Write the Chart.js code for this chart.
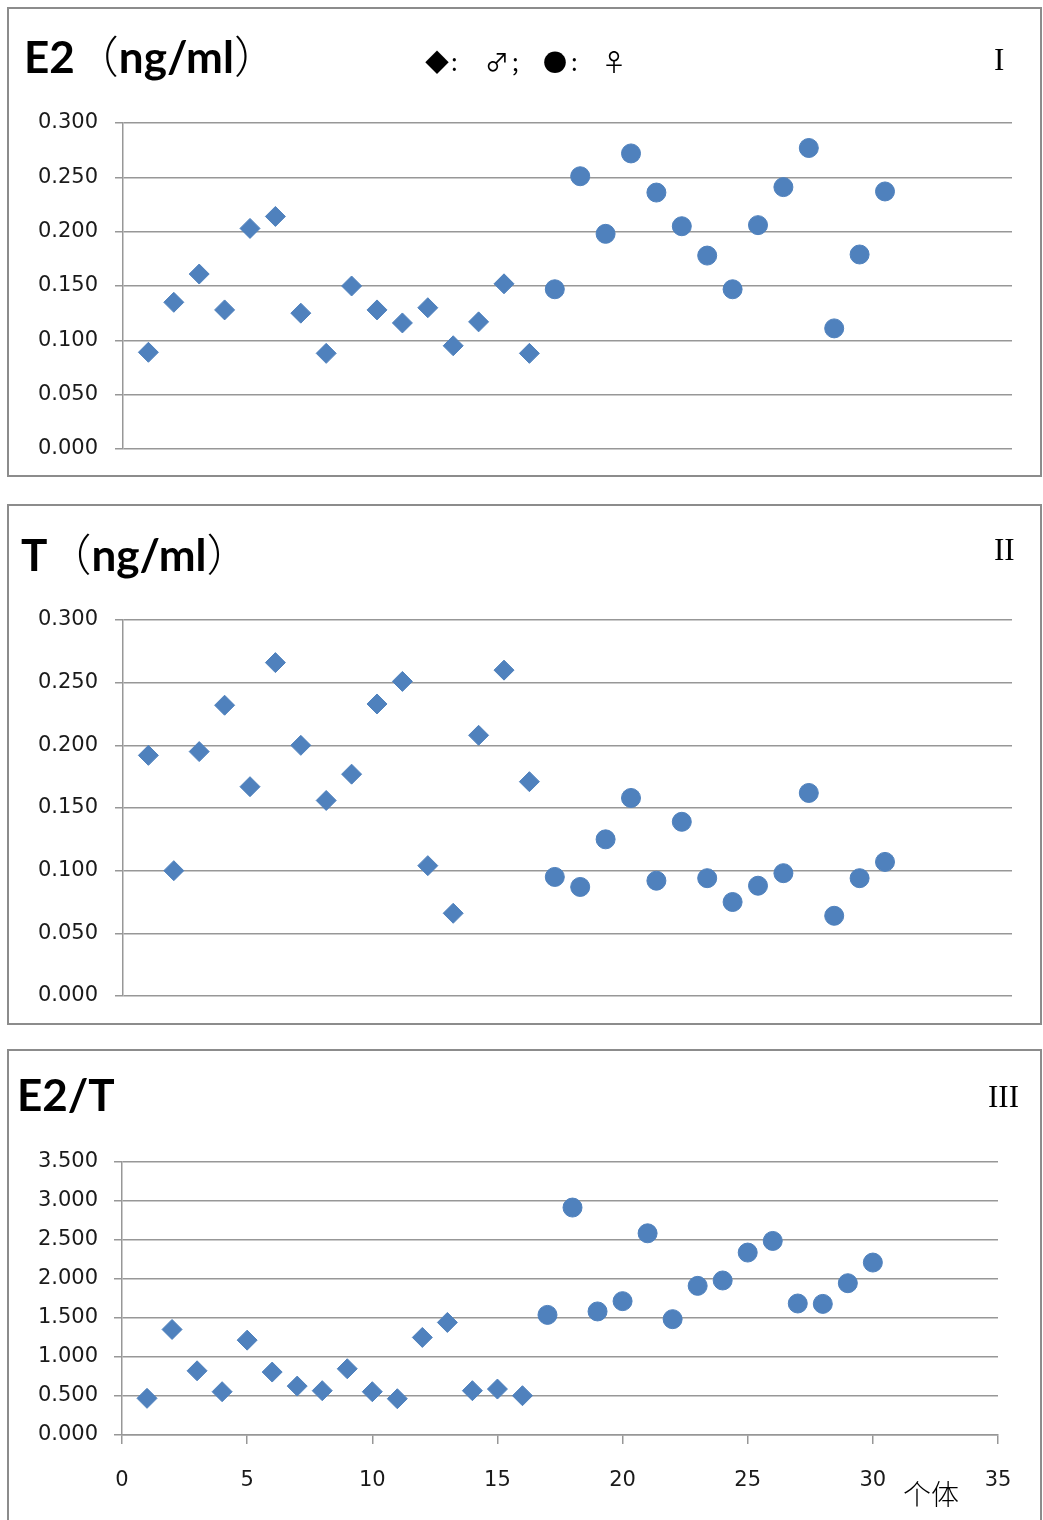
<!DOCTYPE html>
<html>
<head>
<meta charset="utf-8">
<script src="https://cdn.jsdelivr.net/npm/chart.js@4"></script>
<style>
    body { margin: 0; background: #fff; width: 1043px; height: 1520px; overflow: hidden; position: relative; }
    .panel { position: absolute; box-sizing: border-box; border: 2px solid #8c8c8c; left: 7px; width: 1035px; }
    canvas { position: absolute; left: 0; }
    .txt { position: absolute; white-space: nowrap; color: #000; line-height: 1; }
    .title { font-family: Lato, "Noto Sans CJK SC", sans-serif; font-weight: 700; font-size: 44px; }
    .paren { font-family: "Noto Sans CJK SC", sans-serif; font-weight: 300; }
    .roman { font-family: "Liberation Serif", serif; font-size: 31px; }
    .sym { font-family: "Noto Sans CJK SC", sans-serif; font-size: 24px; }
</style>
</head>
<body>
<div class="panel" style="top:7px;height:470px;"></div>
<div class="panel" style="top:504px;height:521px;"></div>
<div class="panel" style="top:1049px;height:490px;"></div>

<canvas id="chartE2" width="1043" height="477" style="top:0px;"></canvas>
<canvas id="chartT" width="1043" height="520" style="top:504px;"></canvas>
<canvas id="chartRatio" width="1043" height="471" style="top:1049px;"></canvas>

<div class="txt title" style="left:24px;top:32px;">E2<span class="paren">（</span>ng/ml<span class="paren">）</span></div>
<div class="txt title" style="left:21px;top:530px;">T<span class="paren">（</span>ng/ml<span class="paren">）</span></div>
<div class="txt title" style="left:17px;top:1072px;">E2/T</div>

<div class="txt sym" style="left:425px;top:49px;">◆</div>
<div class="txt sym" style="left:451px;top:49px;">:</div>
<div class="txt sym" style="left:485px;top:49px;">♂</div>
<div class="txt sym" style="left:512px;top:49px;">;</div>
<div class="txt sym" style="left:543px;top:49px;">●</div>
<div class="txt sym" style="left:571px;top:49px;">:</div>
<div class="txt sym" style="left:602px;top:49px;">♀</div>

<div class="txt roman" style="left:994px;top:44px;">I</div>
<div class="txt roman" style="left:994px;top:534px;">II</div>
<div class="txt roman" style="left:988px;top:1081px;">III</div>

<div class="txt" style="left:903px;top:1479px;font-family:'Noto Sans CJK SC',sans-serif;font-weight:300;font-size:28px;">个体</div>

<script>
    // individuals: 1-16 male (diamond), 17-30 female (circle)
    const maleIds = [1, 2, 3, 4, 5, 6, 7, 8, 9, 10, 11, 12, 13, 14, 15, 16];
    const femaleIds = [17, 18, 19, 20, 21, 22, 23, 24, 25, 26, 27, 28, 29, 30];

    const e2Male = [0.089, 0.135, 0.161, 0.128, 0.203, 0.214, 0.125, 0.088, 0.150, 0.128, 0.116, 0.130, 0.095, 0.117, 0.152, 0.088];
    const e2Female = [0.147, 0.251, 0.198, 0.272, 0.236, 0.205, 0.178, 0.147, 0.206, 0.241, 0.277, 0.111, 0.179, 0.237];

    const tMale = [0.192, 0.100, 0.195, 0.232, 0.167, 0.266, 0.200, 0.156, 0.177, 0.233, 0.251, 0.104, 0.066, 0.208, 0.260, 0.171];
    const tFemale = [0.095, 0.087, 0.125, 0.158, 0.092, 0.139, 0.094, 0.075, 0.088, 0.098, 0.162, 0.064, 0.094, 0.107];

    const ratioMale = [0.470, 1.353, 0.823, 0.555, 1.216, 0.807, 0.627, 0.568, 0.849, 0.555, 0.465, 1.251, 1.443, 0.568, 0.589, 0.504];
    const ratioFemale = [1.540, 2.916, 1.584, 1.716, 2.586, 1.485, 1.912, 1.981, 2.339, 2.488, 1.686, 1.681, 1.946, 2.211];

    const xTicks = [0, 5, 10, 15, 20, 25, 30, 35];

    const pointColor = "#4f81bd";
    const gridColor = "#979797";
    const labelFont = { family: "'DejaVu Sans', sans-serif", size: 21 };

    function toPoints(ids, values) {
        return ids.map((id, i) => ({ x: id, y: values[i] }));
    }

    function makeChart(canvasId, male, female, opts) {
        let ctx = document.getElementById(canvasId);
        return new Chart(ctx, {
            type: "scatter",
            data: {
                datasets: [
                    {
                        label: "♂",
                        data: toPoints(maleIds, male),
                        pointStyle: "rectRot",
                        pointRadius: 10,
                        borderWidth: 1,
                        backgroundColor: pointColor,
                        borderColor: pointColor
                    },
                    {
                        label: "♀",
                        data: toPoints(femaleIds, female),
                        pointStyle: "circle",
                        pointRadius: 9.5,
                        borderWidth: 1,
                        backgroundColor: pointColor,
                        borderColor: pointColor
                    }
                ]
            },
            options: {
                responsive: false,
                animation: false,
                events: [],
                layout: { autoPadding: false, padding: opts.padding },
                plugins: { legend: { display: false }, tooltip: { enabled: false } },
                scales: {
                    x: {
                        type: "linear",
                        min: 0,
                        max: 35,
                        display: opts.showX,
                        afterBuildTicks: axis => { axis.ticks = xTicks.map(v => ({ value: v })); },
                        afterFit: axis => {
                            axis.height = opts.showX ? 85 : 0;
                            axis.paddingLeft = 0;
                            axis.paddingRight = 0;
                        },
                        grid: { drawOnChartArea: false, color: gridColor, lineWidth: 1.5, tickLength: 9 },
                        border: { color: gridColor, width: 1.5 },
                        ticks: { font: labelFont, color: "#1a1a1a", padding: 24, maxRotation: 0 }
                    },
                    y: {
                        min: 0,
                        max: opts.yMax,
                        afterBuildTicks: axis => { axis.ticks = opts.yTicks.map(v => ({ value: v })); },
                        afterFit: axis => {
                            axis.width = opts.axisLeft;
                            axis.paddingTop = 0;
                            axis.paddingBottom = 0;
                        },
                        grid: { color: gridColor, lineWidth: 1.5, tickLength: 8 },
                        border: { color: gridColor, width: 1.5 },
                        ticks: {
                            font: labelFont,
                            color: "#1a1a1a",
                            padding: opts.labelPad,
                            callback: v => v.toFixed(3)
                        }
                    }
                }
            }
        });
    }

    makeChart("chartE2", e2Male, e2Female, {
        yMax: 0.3,
        yTicks: [0, 0.05, 0.1, 0.15, 0.2, 0.25, 0.3],
        axisLeft: 123,
        labelPad: 17,
        showX: false,
        padding: { top: 123, bottom: 28, left: 0, right: 31 }
    });

    makeChart("chartT", tMale, tFemale, {
        yMax: 0.3,
        yTicks: [0, 0.05, 0.1, 0.15, 0.2, 0.25, 0.3],
        axisLeft: 123,
        labelPad: 17,
        showX: false,
        padding: { top: 116, bottom: 28, left: 0, right: 31 }
    });

    makeChart("chartRatio", ratioMale, ratioFemale, {
        yMax: 3.5,
        yTicks: [0, 0.5, 1, 1.5, 2, 2.5, 3, 3.5],
        axisLeft: 122,
        labelPad: 16,
        showX: true,
        padding: { top: 113, bottom: 0, left: 0, right: 45 }
    });
</script>
</body>
</html>
